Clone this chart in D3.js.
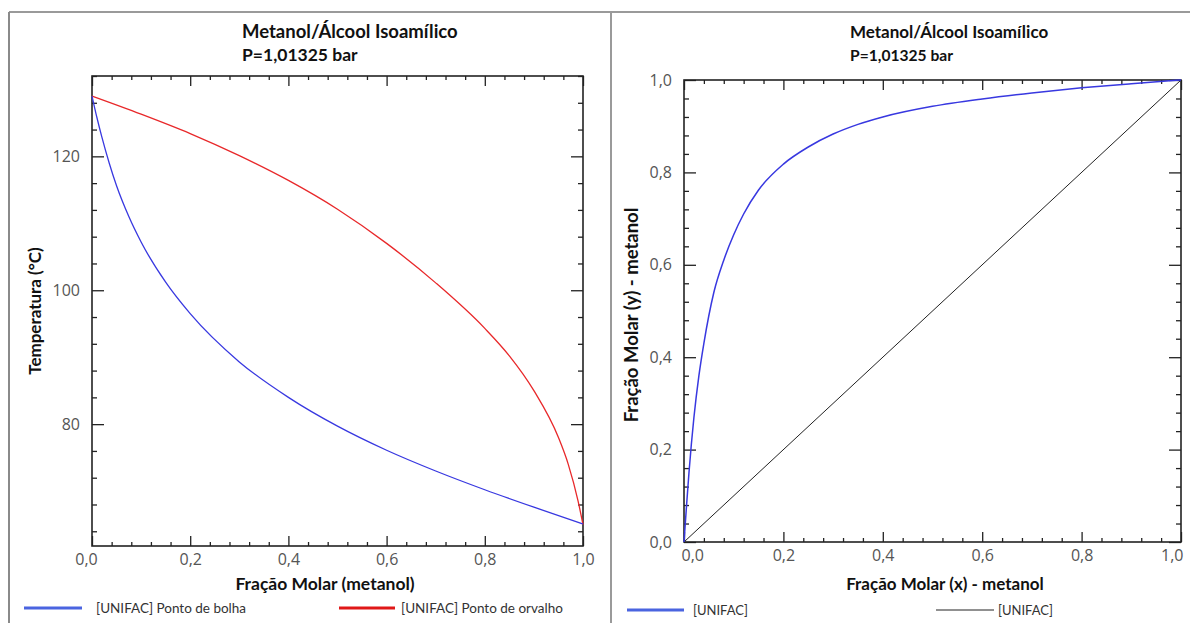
<!DOCTYPE html>
<html><head><meta charset="utf-8">
<script src="https://cdn.jsdelivr.net/npm/d3@7"></script>
<style>body{margin:0;background:#fff}svg{display:block}</style>
</head><body><svg id="c" width="1190" height="623"></svg>
<script>
// ---- data ----
const bubbleX = [0, 0.01, 0.02, 0.035, 0.05, 0.075, 0.1, 0.15, 0.2, 0.3, 0.4, 0.5, 0.6, 0.7, 0.8, 0.9, 1.0];
const bubbleT = [129, 125.8, 122.9, 119.0, 115.6, 111.0, 107.2, 101.2, 96.5, 89.3, 84.0, 79.7, 76.1, 73.0, 70.2, 67.6, 65.1];
const dewX = [0, 0.1, 0.2, 0.3, 0.4, 0.5, 0.6, 0.7, 0.8, 0.85, 0.9, 0.95, 0.97, 0.99, 1.0];
const dewT = [129, 126.3, 123.4, 120.1, 116.4, 112.1, 107, 101.1, 94.3, 90.2, 85, 78, 74, 68.5, 65];
const xyX = [0, 0.005, 0.01, 0.02, 0.03, 0.04, 0.06, 0.08, 0.1, 0.12, 0.15, 0.2, 0.25, 0.3, 0.35, 0.4, 0.5, 0.6, 0.7, 0.8, 0.9, 1.0];
const xyY = [0, 0.077, 0.15, 0.27, 0.36, 0.43, 0.54, 0.61, 0.665, 0.71, 0.762, 0.818, 0.855, 0.883, 0.904, 0.92, 0.943, 0.959, 0.972, 0.983, 0.992, 1.0];
const diagX = [0, 1];
const diagY = [0, 1];
const fracTicks = [0, 0.2, 0.4, 0.6, 0.8, 1.0];
const tempTicks = [80, 100, 120];
const titleText = "Metanol/Álcool Isoamílico";
const subtitleText = "P=1,01325 bar";
const legendLeft = ["[UNIFAC] Ponto de bolha", "[UNIFAC] Ponto de orvalho"];
const legendRight = ["[UNIFAC]", "[UNIFAC]"];

const svg = d3.select("#c");
const LBL = "'Open Sans', 'Noto Sans', sans-serif";
const TTL = "Lato, 'Open Sans', sans-serif";
const fmt = d => d3.format(".1f")(d).replace(".", ",");

// outer panel borders
svg.append("line").attr("x1", 9).attr("x2", 1190).attr("y1", 12).attr("y2", 12).attr("stroke", "#9a9a9a").attr("stroke-width", 2);
svg.append("line").attr("x1", 9).attr("x2", 9).attr("y1", 12).attr("y2", 623).attr("stroke", "#8a8a8a").attr("stroke-width", 2);
svg.append("line").attr("x1", 611).attr("x2", 611).attr("y1", 12).attr("y2", 623).attr("stroke", "#9a9a9a").attr("stroke-width", 2);

function frameAxes(g, x, y, xMajor, xMinor, yMajor, yMinor, yFmt, L, R, T, B) {
  const styleAxis = s => {
    s.select(".domain").remove();
    s.selectAll("line").attr("stroke", "#222").attr("stroke-width", 1.3);
    s.selectAll("text").attr("font-family", LBL).attr("font-size", 16).attr("fill", "#555");
  };
  g.append("g").attr("transform", `translate(0,${B})`).call(d3.axisBottom(x).tickValues(xMinor).tickSize(-4).tickFormat("")).call(styleAxis);
  const xb = g.append("g").attr("transform", `translate(0,${B})`).call(d3.axisBottom(x).tickValues(xMajor).tickSize(-10).tickPadding(8).tickFormat(fmt)).call(styleAxis);
  g.append("g").attr("transform", `translate(0,${T})`).call(d3.axisTop(x).tickValues(xMinor).tickSize(-4).tickFormat("")).call(styleAxis);
  g.append("g").attr("transform", `translate(0,${T})`).call(d3.axisTop(x).tickValues(xMajor).tickSize(-10).tickFormat("")).call(styleAxis);
  g.append("g").attr("transform", `translate(${L},0)`).call(d3.axisLeft(y).tickValues(yMinor).tickSize(-5).tickFormat("")).call(styleAxis);
  g.append("g").attr("transform", `translate(${L},0)`).call(d3.axisLeft(y).tickValues(yMajor).tickSize(-12).tickPadding(12).tickFormat(yFmt)).call(styleAxis);
  g.append("g").attr("transform", `translate(${R},0)`).call(d3.axisRight(y).tickValues(yMinor).tickSize(-5).tickFormat("")).call(styleAxis);
  g.append("g").attr("transform", `translate(${R},0)`).call(d3.axisRight(y).tickValues(yMajor).tickSize(-12).tickFormat("")).call(styleAxis);
  g.append("rect").attr("x", L).attr("y", T).attr("width", R - L).attr("height", B - T)
    .attr("fill", "none").attr("stroke", "#222").attr("stroke-width", 1.6);
  return xb;
}

function titles(tx, s1, s2) {
  svg.append("text").attr("x", tx).attr("y", 38).text(titleText)
    .attr("font-family", TTL).attr("font-weight", "bold").attr("font-size", s1).attr("fill", "#111");
  svg.append("text").attr("x", tx).attr("y", 61).text(subtitleText)
    .attr("font-family", TTL).attr("font-weight", "bold").attr("font-size", s2).attr("fill", "#111");
}

// ---------- LEFT CHART ----------
{
  const L = 92, R = 583, T = 76, B = 546;
  const x = d3.scaleLinear().domain([0, 1]).range([L, R]);
  const y = d3.scaleLinear().domain([61.8, 132]).range([B, T]);
  const g = svg.append("g");
  const xMinor = d3.range(0, 1.0001, 0.04).filter(v => Math.abs(v * 5 - Math.round(v * 5)) > 1e-6);
  const yMinor = d3.range(64, 133, 4).filter(v => v % 20 !== 0);
  const xb = frameAxes(g, x, y, fracTicks, xMinor, tempTicks, yMinor, d3.format("d"), L, R, T, B);
  xb.selectAll(".tick text").filter(d => d === 0).attr("dx", -6);
  const lineB = d3.line().x((d, i) => x(bubbleX[i])).y(d => y(d)).curve(d3.curveMonotoneX);
  const lineD = d3.line().x((d, i) => x(dewX[i])).y(d => y(d)).curve(d3.curveMonotoneX);
  g.append("path").attr("d", lineD(dewT)).attr("fill", "none").attr("stroke", "#e8282a").attr("stroke-width", 1.3);
  g.append("path").attr("d", lineB(bubbleT)).attr("fill", "none").attr("stroke", "#3838e0").attr("stroke-width", 1.3);
  titles(242, 18.5, 17.5);
  svg.append("text").attr("x", 325).attr("y", 590).attr("text-anchor", "middle").text("Fração Molar (metanol)")
    .attr("font-family", TTL).attr("font-weight", "bold").attr("font-size", 17.5).attr("fill", "#111");
  svg.append("text").attr("transform", `translate(41,${(T + B) / 2}) rotate(-90)`).attr("text-anchor", "middle").text("Temperatura (°C)")
    .attr("font-family", TTL).attr("font-weight", "bold").attr("font-size", 17).attr("fill", "#111");
  // legend
  svg.append("line").attr("x1", 24).attr("x2", 82).attr("y1", 608).attr("y2", 608).attr("stroke", "#4a64e0").attr("stroke-width", 3);
  svg.append("text").attr("x", 96).attr("y", 613).text(legendLeft[0]).attr("font-family", TTL).attr("font-size", 13.5).attr("fill", "#333");
  svg.append("line").attr("x1", 339).attr("x2", 395).attr("y1", 608).attr("y2", 608).attr("stroke", "#e01818").attr("stroke-width", 3);
  svg.append("text").attr("x", 401).attr("y", 613).text(legendLeft[1]).attr("font-family", TTL).attr("font-size", 13.5).attr("fill", "#333");
}

// ---------- RIGHT CHART ----------
{
  const L = 684, R = 1181, T = 80, B = 542;
  const x = d3.scaleLinear().domain([0, 1]).range([L, R]);
  const y = d3.scaleLinear().domain([0, 1]).range([B, T]);
  const g = svg.append("g");
  const minor = d3.range(0, 1.0001, 0.04).filter(v => Math.abs(v * 5 - Math.round(v * 5)) > 1e-6);
  const xb = frameAxes(g, x, y, fracTicks, minor, fracTicks, minor, fmt, L, R, T, B);
  xb.selectAll(".tick text").filter(d => d === 0).attr("text-anchor", "start").attr("dx", -3);
  xb.selectAll(".tick text").filter(d => d === 1).attr("text-anchor", "end").attr("dx", 2);
  const lineXY = d3.line().x((d, i) => x(xyX[i])).y(d => y(d)).curve(d3.curveMonotoneX);
  const lineDg = d3.line().x((d, i) => x(diagX[i])).y(d => y(d));
  g.append("path").attr("d", lineDg(diagY)).attr("fill", "none").attr("stroke", "#222").attr("stroke-width", 1);
  g.append("path").attr("d", lineXY(xyY)).attr("fill", "none").attr("stroke", "#3838e0").attr("stroke-width", 1.5);
  titles(850, 17, 15.6);
  svg.append("text").attr("x", 945).attr("y", 590).attr("text-anchor", "middle").text("Fração Molar (x) - metanol")
    .attr("font-family", TTL).attr("font-weight", "bold").attr("font-size", 17).attr("fill", "#111");
  svg.append("text").attr("transform", `translate(638,315) rotate(-90)`).attr("text-anchor", "middle").text("Fração Molar (y) - metanol")
    .attr("font-family", TTL).attr("font-weight", "bold").attr("font-size", 18.5).attr("fill", "#111");
  svg.append("line").attr("x1", 627).attr("x2", 684).attr("y1", 610).attr("y2", 610).attr("stroke", "#4a64e0").attr("stroke-width", 3);
  svg.append("text").attr("x", 693).attr("y", 615).text(legendRight[0]).attr("font-family", TTL).attr("font-size", 13).attr("fill", "#333");
  svg.append("line").attr("x1", 936).attr("x2", 994).attr("y1", 610).attr("y2", 610).attr("stroke", "#222").attr("stroke-width", 1);
  svg.append("text").attr("x", 998).attr("y", 615).text(legendRight[1]).attr("font-family", TTL).attr("font-size", 13).attr("fill", "#333");
}
</script></body></html>
